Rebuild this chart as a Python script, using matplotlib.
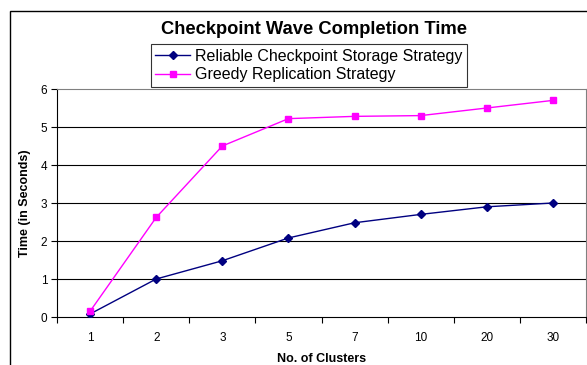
import numpy as np
import matplotlib.pyplot as plt
from matplotlib.patches import Rectangle

plt.rcParams['font.family'] = ['Liberation Sans', 'DejaVu Sans']

clusters = ["1", "2", "3", "5", "7", "10", "20", "30"]
reliable = [0.08, 1.0, 1.48, 2.08, 2.48, 2.7, 2.9, 3.0]
greedy = [0.15, 2.62, 4.5, 5.22, 5.28, 5.3, 5.5, 5.7]

W, H = 587, 365
fig = plt.figure(figsize=(W / 100, H / 100), dpi=100)

# plot area in pixel coordinates
left, right, top, bottom = 57, 586, 89, 317
ax = fig.add_axes([left / W, 1 - bottom / H, (right - left) / W, (bottom - top) / H])

# outer chart frame (runs off the right and bottom edges)
fig.patches.append(Rectangle((10 / W, -0.1), 1.2, 1 - 11 / H + 0.1,
                             transform=fig.transFigure, fill=False,
                             edgecolor='black', linewidth=1.0))

x = np.arange(len(clusters))
ax.plot(x, reliable, color='#000080', marker='D', markersize=4.5,
        linewidth=1.0, label='Reliable Checkpoint Storage Strategy', zorder=3)
ax.plot(x, greedy, color='#FF00FF', marker='s', markersize=5,
        linewidth=1.0, label='Greedy Replication Strategy', zorder=3)

ax.set_xlim(-0.5, len(clusters) - 0.5)
ax.set_ylim(0, 6)
ax.set_yticks(range(7))
ax.set_xticks(x)
ax.set_xticklabels(clusters)
ax.set_xticks(np.arange(-0.5, len(clusters)), minor=True)
ax.tick_params(axis='x', which='major', length=0, labelsize=8.5, pad=11)
ax.tick_params(axis='x', which='minor', length=4, width=0.8, direction='out')
ax.tick_params(axis='y', length=4, width=0.8, labelsize=8.5, pad=3)

for v in range(1, 6):
    ax.axhline(v, color='black', linewidth=0.8, zorder=1)

ax.spines['left'].set_color('black')
ax.spines['bottom'].set_color('black')
ax.spines['top'].set_color('#808080')
ax.spines['right'].set_color('#808080')
for s in ax.spines.values():
    s.set_linewidth(0.8)

ax.set_xlabel('No. of Clusters', fontsize=9, fontweight='bold', labelpad=6)
ax.set_ylabel('Time (in Seconds)', fontsize=9, fontweight='bold', labelpad=7)

fig.text(314 / W, 1 - 29 / H, 'Checkpoint Wave Completion Time',
         ha='center', va='center', fontsize=13.2, fontweight='bold')

leg = fig.legend(loc='center', bbox_to_anchor=(309 / W, 1 - 65.5 / H),
                 fontsize=11.5, frameon=True, fancybox=False,
                 handlelength=2.2, borderpad=0.3, labelspacing=0.2,
                 handletextpad=0.3, borderaxespad=0)
leg.get_frame().set_edgecolor('black')
leg.get_frame().set_linewidth(0.8)

fig.savefig('out.png', dpi=100)
